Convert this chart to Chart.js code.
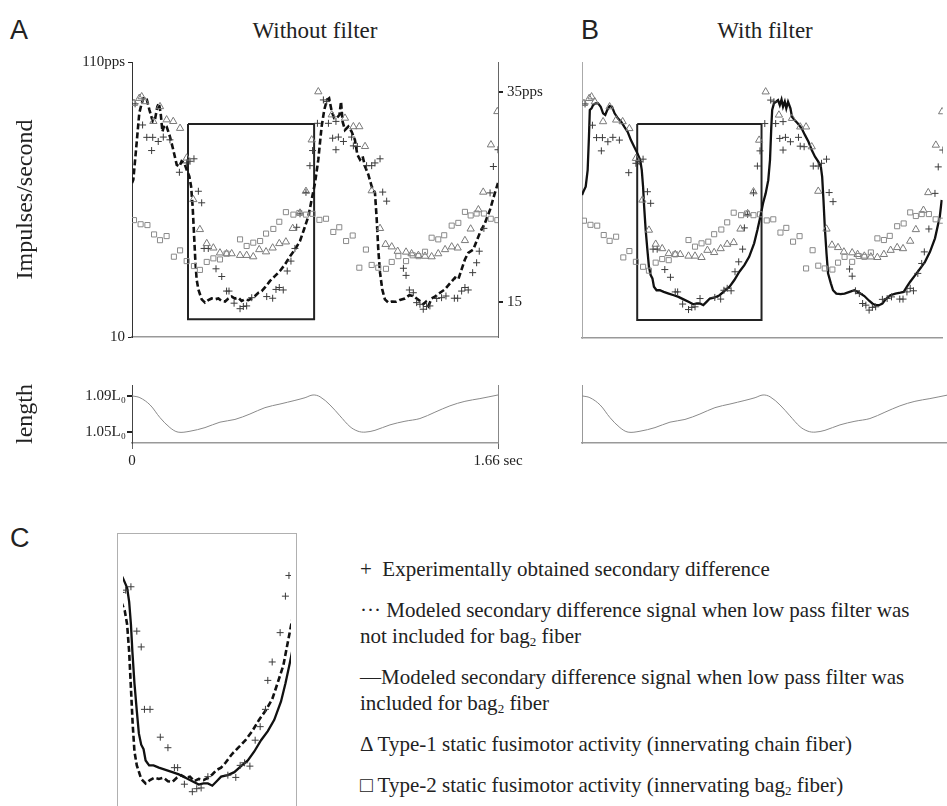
<!DOCTYPE html>
<html>
<head>
<meta charset="utf-8">
<script src="https://cdn.jsdelivr.net/npm/chart.js@4.4.1/dist/chart.umd.min.js"></script>
<style>
  body { margin: 0; width: 947px; height: 806px; overflow: hidden; background: #fff; position: relative;
         font-family: "Liberation Serif", "Times New Roman", serif; color: #222; }
  canvas, .abs { position: absolute; }
  .letter { font-family: "Liberation Sans", Arial, sans-serif; font-size: 27px; line-height: 27px; }
  .title { width: 366px; text-align: center; font-size: 23px; line-height: 23px; top: 19px; }
  .leg { left: 360px; font-size: 21px; line-height: 26px; white-space: nowrap; }
  .leg sub { font-size: 13px; vertical-align: -3px; line-height: 0; }
  #frameC { left: 117px; top: 533px; width: 178px; height: 280px; border: 1px solid #b0b0b0; border-bottom: none; }
  #frameC canvas { left: 0; top: 0; }
</style>
</head>
<body>
<div class="abs letter" style="left:10px;top:17px">A</div>
<div class="abs letter" style="left:581px;top:17px">B</div>
<div class="abs letter" style="left:10px;top:525px">C</div>
<div class="abs title" style="left:132px">Without filter</div>
<div class="abs title" style="left:582px">With filter</div>

<canvas id="topA" width="560" height="350" style="left:0;top:0"></canvas>
<canvas id="topB" width="388" height="350" style="left:560px;top:0"></canvas>
<canvas id="lenA" width="560" height="110" style="left:0;top:370px"></canvas>
<canvas id="lenB" width="388" height="110" style="left:560px;top:370px"></canvas>
<div id="frameC" class="abs"><canvas id="zoomC" width="178" height="277"></canvas></div>

<div class="abs leg" style="top:556px">+&nbsp; Experimentally obtained secondary difference</div>
<div class="abs leg" style="top:597px">··· Modeled secondary difference signal when low pass filter was</div>
<div class="abs leg" style="top:623px">not included for bag<sub>2</sub> fiber</div>
<div class="abs leg" style="top:664px">—Modeled secondary difference signal when low pass filter was</div>
<div class="abs leg" style="top:690px">included for bag<sub>2</sub> fiber</div>
<div class="abs leg" style="top:731px">Δ Type-1 static fusimotor activity (innervating chain fiber)</div>
<div class="abs leg" style="top:772px">□ Type-2 static fusimotor activity (innervating bag<sub>2</sub> fiber)</div>

<script>
// time in seconds, rate in impulses/second (left axis units)
const type1Pts = [[0.009,95.0],[0.033,96.8],[0.044,97.4],[0.059,95.6],[0.097,88.4],[0.127,93.8],[0.157,89.0],
  [0.187,88.4],[0.218,85.9],[0.248,75.1],[0.278,60.0],[0.308,49.1],[0.339,44.0],[0.369,42.4],[0.399,40.6],
  [0.429,40.3],[0.452,40.3],[0.490,39.7],[0.520,39.7],[0.550,39.2],[0.577,41.8],[0.608,41.0],[0.638,42.4],
  [0.668,44.0],[0.698,44.6],[0.729,49.5],[0.762,55.1],[0.789,63.0],[0.815,81.7],[0.845,99.2],[0.906,90.8],
  [0.966,89.6],[1.004,86.5],[1.031,86.5],[1.057,79.3],[1.087,63.2],[1.125,49.5],[1.150,43.7],[1.178,42.8],
  [1.205,41.2],[1.243,40.9],[1.268,40.3],[1.299,39.7],[1.329,39.4],[1.359,39.2],[1.389,40.3],[1.420,41.8],
  [1.450,42.8],[1.477,42.4],[1.510,45.1],[1.536,49.3],[1.571,56.3],[1.593,62.7],[1.628,79.9],[1.657,92.0]];

const type2Pts = [[0.009,52.5],[0.039,51.0],[0.070,50.7],[0.100,47.3],[0.127,45.2],[0.157,46.7],[0.190,39.2],
  [0.218,41.5],[0.248,37.6],[0.281,35.8],[0.308,34.4],[0.339,37.3],[0.369,38.6],[0.399,38.2],[0.429,40.3],
  [0.490,45.5],[0.520,43.1],[0.550,44.3],[0.581,44.9],[0.608,47.6],[0.641,49.3],[0.668,51.9],[0.698,55.4],
  [0.732,54.5],[0.759,55.1],[0.789,54.5],[0.819,54.8],[0.850,52.6],[0.880,53.0],[0.913,48.2],[0.940,49.9],
  [0.971,44.9],[1.001,46.9],[1.031,35.2],[1.061,41.8],[1.087,36.2],[1.117,35.2],[1.152,34.8],[1.178,37.3],
  [1.208,39.4],[1.243,37.6],[1.273,39.7],[1.299,39.4],[1.329,41.0],[1.359,46.1],[1.389,45.5],[1.416,47.0],
  [1.450,50.5],[1.480,51.5],[1.510,55.5],[1.536,54.2],[1.563,54.9],[1.596,54.9],[1.627,53.0],[1.657,52.5]];

const crossPts = [[0.014,94.8],[0.048,87.1],[0.067,82.6],[0.094,82.6],[0.089,77.8],[0.119,81.1],[0.142,82.7],
  [0.172,81.7],[0.215,69.9],[0.248,73.3],[0.263,73.9],[0.281,74.8],[0.301,63.0],[0.316,58.8],[0.327,42.2],
  [0.346,42.2],[0.381,34.8],[0.407,32.0],[0.429,26.7],[0.440,26.7],[0.463,22.3],[0.490,20.3],[0.505,21.1],
  [0.520,21.3],[0.543,24.3],[0.611,24.7],[0.638,24.1],[0.653,27.3],[0.668,28.0],[0.686,27.1],[0.704,34.0],
  [0.721,37.6],[0.739,42.2],[0.747,49.9],[0.762,54.8],[0.789,62.6],[0.807,72.3],[0.819,77.8],[0.841,87.7],
  [0.868,96.2],[0.883,95.6],[0.891,87.7],[0.910,82.3],[0.925,88.4],[0.925,78.1],[0.936,82.7],[0.959,81.1],
  [0.996,82.7],[1.004,79.5],[1.022,79.3],[1.064,72.3],[1.087,72.3],[1.102,73.3],[1.125,74.8],[1.137,62.7],
  [1.155,59.4],[1.231,35.0],[1.243,32.4],[1.258,27.1],[1.276,26.1],[1.291,22.5],[1.306,21.9],[1.321,20.1],
  [1.336,21.1],[1.351,21.3],[1.382,24.0],[1.404,24.3],[1.424,24.9],[1.462,24.1],[1.477,24.1],[1.495,26.7],
  [1.510,28.0],[1.525,27.1],[1.545,33.4],[1.563,37.0],[1.575,41.2],[1.596,49.5],[1.624,62.4],[1.639,72.0],
  [1.660,78.1]];

// model without low pass filter (dashed)
const noFilterPts = [[0.000,66.0],[0.006,67.2],[0.021,80.5],[0.033,91.4],[0.044,95.0],[0.054,97.2],[0.067,96.4],
  [0.079,92.6],[0.094,88.4],[0.104,89.0],[0.115,93.8],[0.122,95.0],[0.130,91.4],[0.138,84.7],[0.147,87.1],
  [0.157,86.5],[0.172,82.9],[0.187,78.1],[0.203,72.6],[0.215,72.0],[0.225,73.9],[0.237,73.3],[0.248,70.8],
  [0.260,68.4],[0.268,64.8],[0.275,57.5],[0.281,47.9],[0.287,38.2],[0.293,31.0],[0.301,27.3],[0.316,23.7],
  [0.331,22.5],[0.346,23.4],[0.361,24.0],[0.376,23.7],[0.392,24.0],[0.407,23.1],[0.422,22.9],[0.437,24.0],
  [0.452,24.7],[0.467,24.0],[0.482,24.3],[0.497,23.1],[0.512,23.7],[0.528,23.4],[0.543,24.0],[0.558,24.9],
  [0.573,26.1],[0.588,26.7],[0.603,28.0],[0.626,30.4],[0.649,32.2],[0.671,34.0],[0.694,36.4],[0.717,39.4],
  [0.739,41.8],[0.762,44.9],[0.780,49.1],[0.800,53.9],[0.815,60.0],[0.830,66.0],[0.845,74.5],[0.860,86.5],
  [0.872,92.6],[0.884,96.2],[0.894,96.8],[0.906,92.0],[0.917,89.6],[0.929,89.6],[0.941,90.8],[0.948,95.6],
  [0.955,88.4],[0.966,85.3],[0.981,86.5],[0.996,84.7],[1.011,81.7],[1.022,76.3],[1.034,74.5],[1.046,75.7],
  [1.057,72.0],[1.072,69.0],[1.087,64.8],[1.102,62.4],[1.110,52.7],[1.117,41.8],[1.125,33.4],[1.135,27.3],
  [1.147,23.7],[1.163,22.5],[1.178,22.9],[1.197,22.8],[1.215,23.5],[1.238,24.0],[1.258,25.2],[1.276,24.9],
  [1.291,24.0],[1.306,23.1],[1.321,21.9],[1.333,22.8],[1.344,21.3],[1.359,24.0],[1.374,24.7],[1.397,26.1],
  [1.419,27.3],[1.442,29.5],[1.465,31.6],[1.480,31.0],[1.495,34.6],[1.510,38.2],[1.525,40.6],[1.548,41.8],
  [1.563,44.9],[1.578,47.9],[1.601,51.5],[1.624,56.3],[1.646,62.4],[1.660,66.0]];

// model with low pass filter (solid)
const filterPts = [[0.000,61.8],[0.006,63.0],[0.017,64.8],[0.026,70.8],[0.032,82.9],[0.036,92.6],[0.044,93.2],
  [0.051,94.4],[0.062,95.0],[0.074,95.0],[0.086,93.8],[0.097,91.4],[0.107,90.8],[0.116,92.6],[0.127,94.0],
  [0.138,93.8],[0.150,91.4],[0.165,89.6],[0.180,88.4],[0.195,86.5],[0.210,84.7],[0.225,81.7],[0.240,79.3],
  [0.255,76.9],[0.268,74.5],[0.275,70.8],[0.281,64.8],[0.286,57.5],[0.293,49.1],[0.301,41.8],[0.308,35.8],
  [0.316,32.8],[0.324,31.6],[0.331,28.6],[0.343,27.3],[0.358,27.3],[0.376,26.7],[0.399,26.1],[0.422,25.5],
  [0.444,24.9],[0.467,24.0],[0.490,23.1],[0.512,22.2],[0.528,22.5],[0.543,22.5],[0.558,21.9],[0.573,23.1],
  [0.588,24.3],[0.611,24.7],[0.633,25.5],[0.656,27.1],[0.679,28.6],[0.701,31.0],[0.724,34.0],[0.747,36.4],
  [0.769,39.4],[0.792,44.3],[0.807,49.1],[0.822,54.5],[0.833,58.8],[0.845,62.4],[0.857,67.2],[0.865,74.5],
  [0.871,86.5],[0.875,92.6],[0.883,95.0],[0.893,95.6],[0.902,96.2],[0.910,94.4],[0.918,96.4],[0.925,93.8],
  [0.933,95.6],[0.940,93.2],[0.948,95.6],[0.959,93.2],[0.966,90.2],[0.978,89.0],[0.993,87.7],[1.011,85.9],
  [1.026,83.5],[1.042,81.1],[1.057,78.1],[1.072,75.7],[1.087,73.9],[1.099,72.0],[1.105,68.4],[1.111,60.0],
  [1.117,50.3],[1.125,40.6],[1.132,33.4],[1.145,29.8],[1.155,27.3],[1.170,26.1],[1.190,25.9],[1.208,26.1],
  [1.231,26.7],[1.253,27.3],[1.276,26.4],[1.299,25.2],[1.321,23.5],[1.336,22.5],[1.351,21.9],[1.367,21.9],
  [1.382,22.5],[1.397,24.0],[1.419,25.5],[1.442,26.1],[1.465,26.4],[1.480,26.7],[1.495,28.6],[1.510,30.4],
  [1.533,32.8],[1.556,35.2],[1.578,37.6],[1.601,41.2],[1.624,46.1],[1.646,53.9],[1.655,60.0]];

// muscle length (in L0)
const lengthPts = [[0,1.090],[0.036,1.088],[0.082,1.080],[0.127,1.066],[0.172,1.055],[0.209,1.050],[0.263,1.051],
  [0.331,1.055],[0.399,1.061],[0.467,1.064],[0.535,1.070],[0.603,1.077],[0.671,1.081],[0.739,1.085],[0.785,1.088],
  [0.821,1.091],[0.853,1.089],[0.898,1.080],[0.943,1.068],[0.989,1.056],[1.025,1.051],[1.057,1.050],[1.102,1.052],
  [1.170,1.058],[1.238,1.062],[1.306,1.065],[1.374,1.072],[1.442,1.079],[1.510,1.084],[1.578,1.087],[1.660,1.091]];

// zoomed window shown in C
const boxTime = [0.254, 0.826];
const boxRate = [16.5, 87.5];

const rateTicks = [10, 110];
const rateTickLabels = ['10', '110pps'];
const rightTicks = [15, 35];
const rightTickLabels = ['15', '35pps'];
const lengthTicks = [1.05, 1.09];
const lengthTickLabels = ['1.05L\u2080', '1.09L\u2080'];
const timeTicks = [0, 1.66];
const timeTickLabels = ['0', '1.66 sec'];

Chart.defaults.font.family = '"Liberation Serif", "Times New Roman", serif';
Chart.defaults.color = '#222';
Chart.defaults.animation = false;
Chart.defaults.plugins.legend.display = false;
Chart.defaults.plugins.tooltip.enabled = false;

const toXY = pts => pts.map(p => ({ x: p[0], y: p[1] }));

function fix(size) {
  return scale => {
    if (scale.isHorizontal()) scale.height = size;
    else scale.width = size;
  };
}
function setTicks(values) {
  return scale => { scale.ticks = values.map(v => ({ value: v })); };
}

function marks(pts, style, r, color) {
  return { data: toXY(pts), pointStyle: style, pointRadius: r, borderColor: color,
           backgroundColor: 'rgba(0,0,0,0)', borderWidth: 1, showLine: false };
}
function trace(pts, dash, width) {
  return { data: toXY(pts), showLine: true, borderColor: '#111', borderWidth: width,
           borderDash: dash, pointRadius: 0, tension: 0 };
}
function boxTrace() {
  const c = [[boxTime[0], boxRate[1]], [boxTime[1], boxRate[1]], [boxTime[1], boxRate[0]],
             [boxTime[0], boxRate[0]], [boxTime[0], boxRate[1]]];
  return { data: toXY(c), showLine: true, borderColor: '#222', borderWidth: 2,
           borderJoinStyle: 'miter', pointRadius: 0, tension: 0 };
}

const plainY = width => ({
  min: 10, max: 110, position: 'left', ticks: { display: false }, grid: { display: false },
  border: { color: '#aaa', width: 1 }, afterFit: fix(width)
});

function impulseChart(id, line, dash, withAxes) {
  const scales = {
    x: { type: 'linear', min: 0, max: 1.66, ticks: { display: false }, grid: { display: false },
         border: { color: '#999', width: 1.5 }, afterFit: fix(12) }
  };
  if (withAxes) {
    scales.y = {
      min: 10, max: 110, position: 'left', afterBuildTicks: setTicks(rateTicks),
      ticks: { callback: (v, i) => rateTickLabels[i], font: { size: 15 }, padding: 3, color: '#222' },
      grid: { drawOnChartArea: false, tickLength: 4, color: '#222' },
      border: { color: '#333', width: 1 },
      title: { display: true, text: 'Impulses/second', font: { size: 24 }, padding: { top: 11 }, color: '#222' },
      afterFit: fix(132)
    };
    scales.y2 = {
      min: 11.68, max: 37.84, position: 'right', afterBuildTicks: setTicks(rightTicks),
      ticks: { callback: (v, i) => rightTickLabels[i], font: { size: 15 }, padding: 4, color: '#222' },
      grid: { drawOnChartArea: false, tickLength: 5, color: '#222', lineWidth: 2 },
      border: { color: '#666', width: 1 }, afterFit: fix(62)
    };
  } else {
    scales.y = plainY(22);
  }
  return new Chart(document.getElementById(id), {
    type: 'scatter',
    data: { datasets: [
      marks(type2Pts, 'rect', 3.6, '#8a8a8a'),
      marks(type1Pts, 'triangle', 4.2, '#7a7a7a'),
      marks(crossPts, 'cross', 3.5, '#3c3c3c'),
      trace(line, dash, dash.length ? 2.6 : 2.3),
      boxTrace()
    ] },
    options: {
      responsive: false,
      layout: { padding: { top: 62 } },
      scales: scales
    }
  });
}

function lengthChart(id, withAxes) {
  const scales = {
    x: { type: 'linear', min: 0, max: 1.66, afterBuildTicks: setTicks(timeTicks),
         ticks: { display: withAxes, callback: (v, i) => timeTickLabels[i], font: { size: 15 },
                  padding: 3, maxRotation: 0, color: '#222' },
         grid: { drawOnChartArea: false, drawTicks: withAxes, tickLength: 6, color: '#666' },
         border: { color: '#999', width: 1.5 }, afterFit: fix(37) },
    y: withAxes ? {
      min: 1.038, max: 1.102, position: 'left', afterBuildTicks: setTicks(lengthTicks),
      ticks: { callback: (v, i) => lengthTickLabels[i], font: { size: 15 }, padding: 1, color: '#222' },
      grid: { drawOnChartArea: false, tickLength: 5, color: '#222', lineWidth: 2 },
      border: { color: '#444', width: 1 },
      title: { display: true, text: 'length', font: { size: 24 }, padding: { top: 11 }, color: '#222' },
      afterFit: fix(132)
    } : { min: 1.038, max: 1.102, position: 'left', ticks: { display: false }, grid: { display: false },
          border: { color: '#999', width: 1 }, afterFit: fix(22) }
  };
  if (withAxes) {
    scales.y2 = { min: 1.038, max: 1.102, position: 'right', ticks: { display: false },
                  grid: { display: false }, border: { color: '#888', width: 1 }, afterFit: fix(62) };
  }
  return new Chart(document.getElementById(id), {
    type: 'scatter',
    data: { datasets: [{ data: toXY(lengthPts), showLine: true, borderColor: '#8a8a8a', borderWidth: 1,
                         pointRadius: 0, tension: 0.35 }] },
    options: { responsive: false, layout: { padding: { top: 15 } }, scales: scales }
  });
}

impulseChart('topA', noFilterPts, [6, 3], true);
impulseChart('topB', filterPts, [], false);
lengthChart('lenA', true);
lengthChart('lenB', false);

// C: the boxed window, enlarged
new Chart(document.getElementById('zoomC'), {
  type: 'scatter',
  data: { datasets: [
    marks(crossPts, 'cross', 3.5, '#3c3c3c'),
    trace(noFilterPts, [6, 3], 2.6),
    trace(filterPts, [], 2.3)
  ] },
  options: {
    responsive: false,
    layout: { padding: 0 },
    scales: {
      x: { type: 'linear', display: false, min: boxTime[0], max: boxTime[1] },
      y: { display: false, min: boxRate[0], max: boxRate[1] }
    }
  }
});
</script>
</body>
</html>
